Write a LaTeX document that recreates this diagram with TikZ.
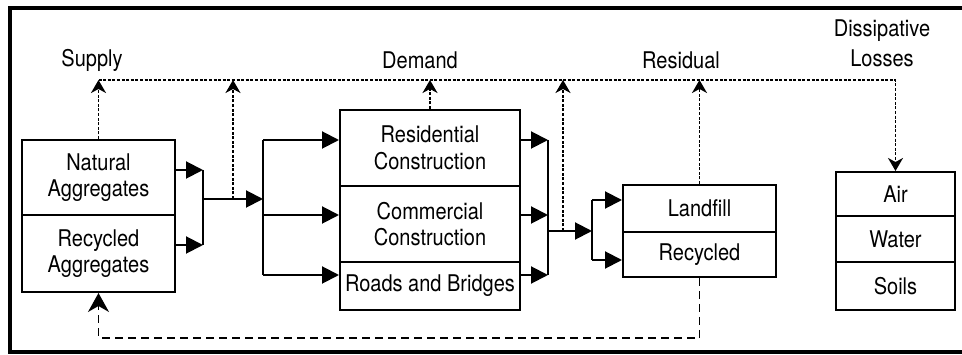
\documentclass[tikz,border=0pt]{standalone}
\usepackage{fontspec}
\setmainfont{TeX Gyre Heros}[FakeStretch=0.87]
\usetikzlibrary{arrows.meta}
\begin{document}
\begin{tikzpicture}
	[x=1pt,y=-1pt,line width=2pt,
	box/.style={draw,rectangle,inner sep=0pt,align=center,font=\fontsize{23}{26.5}\selectfont},
	lbl/.style={align=center,font=\fontsize{23}{30}\selectfont},
	flow/.style={-{Triangle[length=17pt,width=17pt]}},
	dots/.style={dash pattern=on 3pt off 1.6pt,line width=1.7pt,-{Stealth[length=13pt,width=15pt,inset=4pt]}},
	back/.style={dash pattern=on 8pt off 5pt,line width=1.4pt,-{Stealth[length=19pt,width=21pt,inset=6pt]}}]
\clip (0,0) rectangle (962,355);
\draw[line width=3.5pt] (10,8) rectangle (980,352);
% labels
\node[lbl] (supply) at (92,60) {Supply};
\node[lbl] (demand) at (420,60) {Demand};
\node[lbl] (residual) at (681,60) {Residual};
\node[lbl] (losses) at (882,43) {Dissipative\\Losses};
% boxes
\node[box,minimum width=153pt,minimum height=75pt] (nat) at (98.5,177.5) {Natural\\Aggregates};
\node[box,minimum width=153pt,minimum height=77pt] (rec1) at (98.5,253.5) {Recycled\\Aggregates};
\node[box,minimum width=180pt,minimum height=76pt] (res) at (430,148) {Residential\\Construction};
\node[box,minimum width=180pt,minimum height=76pt] (com) at (430,224) {Commercial\\Construction};
\node[box,minimum width=180pt,minimum height=48pt] (road) at (430,286) {Roads and Bridges};
\node[box,minimum width=153pt,minimum height=47pt] (land) at (699.5,208.5) {Landfill};
\node[box,minimum width=153pt,minimum height=45pt] (rec2) at (699.5,254.5) {Recycled};
\node[box,minimum width=119pt,minimum height=44pt] (air) at (895.5,194) {Air};
\node[box,minimum width=119pt,minimum height=46pt] (water) at (895.5,239) {Water};
\node[box,minimum width=119pt,minimum height=48pt] (soil) at (895.5,286) {Soils};
% bars
\coordinate (b1t) at (203,170);
\coordinate (b1b) at (203,245);
\coordinate (b1o) at (203,199);
\coordinate (b2t) at (263,140);
\coordinate (b2m) at (263,215);
\coordinate (b2b) at (263,275);
\coordinate (b3t) at (548,140);
\coordinate (b3m) at (548,215);
\coordinate (b3b) at (548,275);
\coordinate (b3o) at (548,231);
\coordinate (b4t) at (592,200);
\coordinate (b4b) at (592,260);
\coordinate (j1) at (233,199);
\coordinate (j2) at (563,231);
\coordinate (top) at (0,80);
\coordinate (low) at (0,338);
\draw (b1t)--(b1b);
\draw (b2t)--(b2b);
\draw (b3t)--(b3b);
\draw (b4t)--(b4b);
% flows
\draw[flow] (nat.east |- b1t)--(b1t);
\draw[flow] (rec1.east |- b1b)--(b1b);
\draw[flow] (b1o)--(b1o -| b2t);
\draw[flow] (b2t)--(b2t -| res.west);
\draw[flow] (b2m)--(b2m -| com.west);
\draw[flow] (b2b)--(b2b -| road.west);
\draw[flow] (res.east |- b3t)--(b3t);
\draw[flow] (com.east |- b3m)--(b3m);
\draw[flow] (road.east |- b3b)--(b3b);
\draw[flow] (b3o)--(b3o -| b4t);
\draw[flow] (b4t)--(b4t -| land.west);
\draw[flow] (b4b)--(b4b -| rec2.west);
% losses
\draw[dots] (nat.north)--(nat.north |- top);
\draw[dots] (j1)--(j1 |- top);
\draw[dots] (res.north)--(res.north |- top);
\draw[dots] (j2)--(j2 |- top);
\draw[dots] (land.north)--(land.north |- top);
\draw[dots] (nat.north |- top)--(air.north |- top)--(air.north);
\draw[back] (rec2.south)--(rec2.south |- low)--(rec1.south |- low)--(rec1.south);
\end{tikzpicture}
\end{document}
